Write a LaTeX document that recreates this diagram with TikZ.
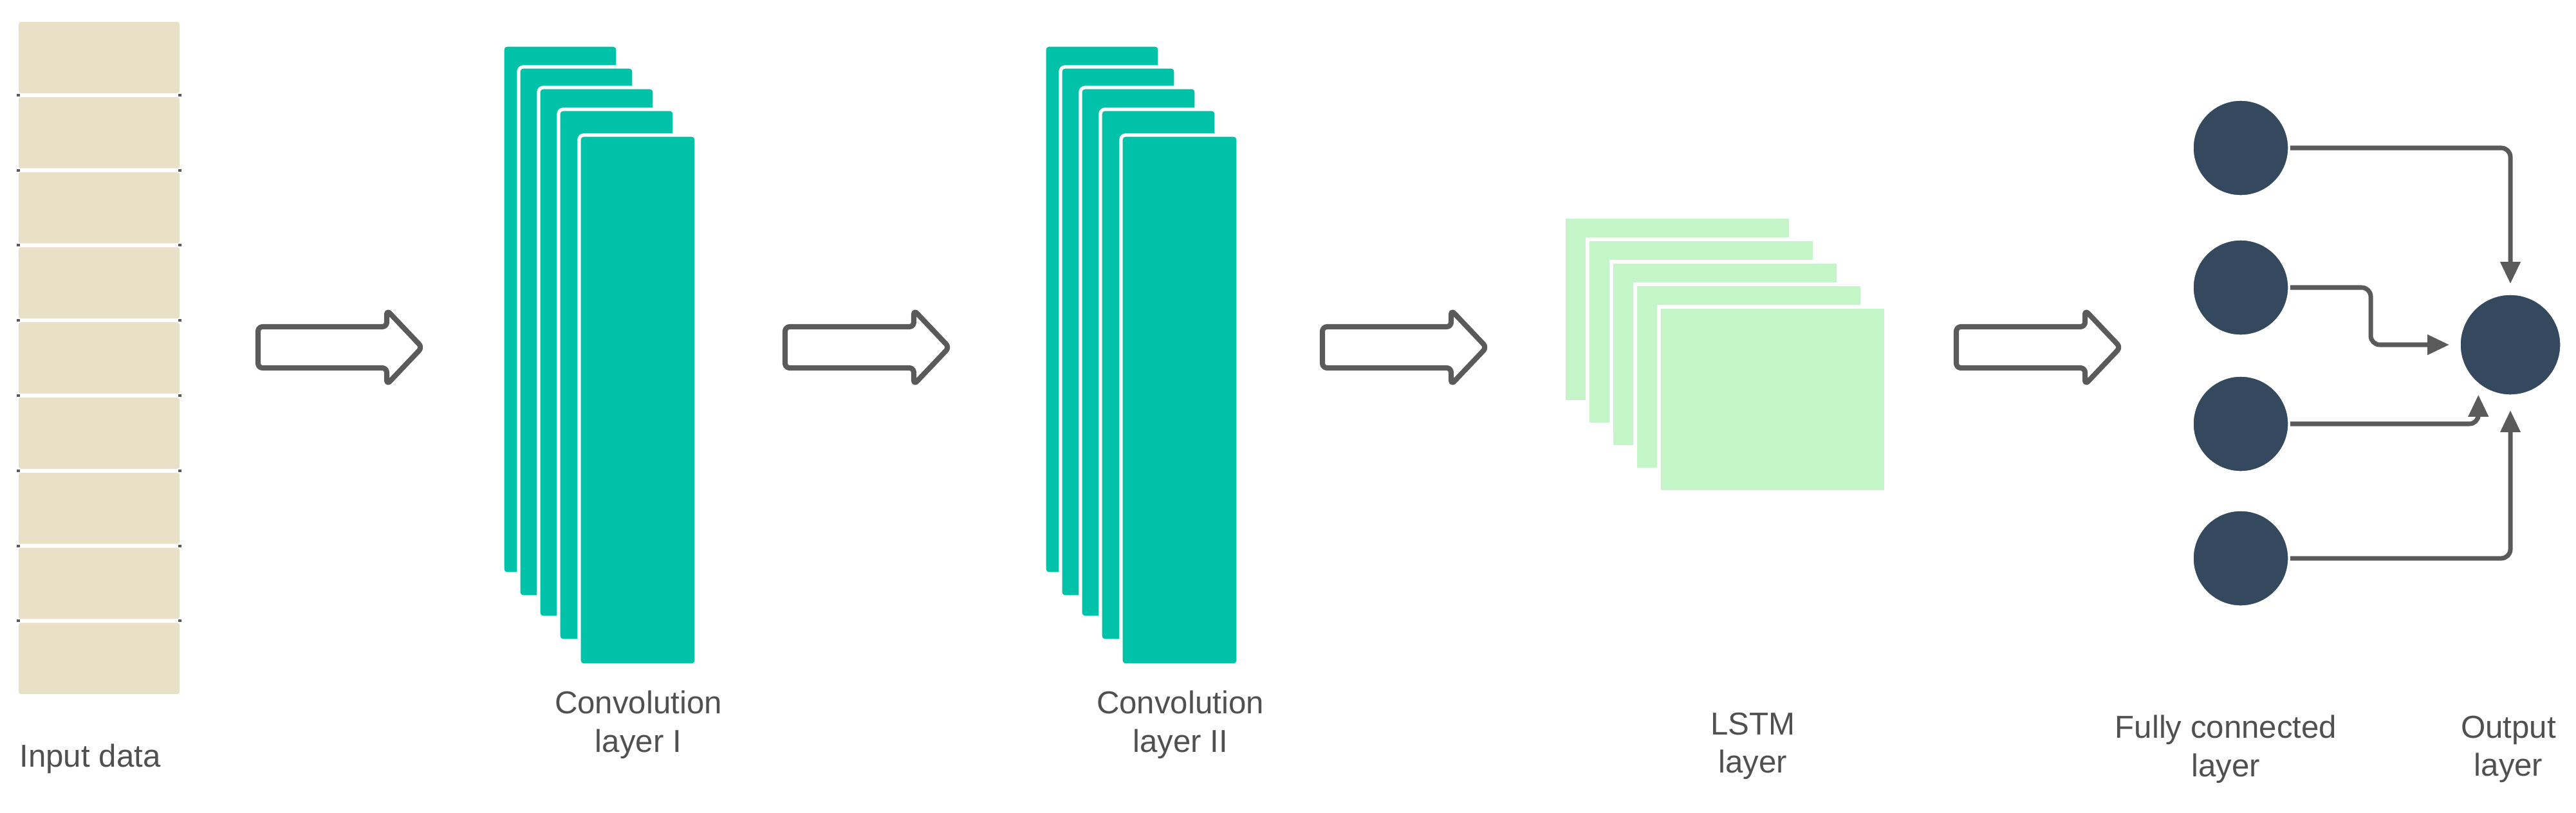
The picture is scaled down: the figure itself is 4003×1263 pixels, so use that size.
\documentclass[tikz,border=0pt]{standalone}
\usepackage{fontspec}
\setmainfont{Liberation Sans}
\usetikzlibrary{arrows.meta}
\definecolor{sand}{HTML}{E8E1C8}
\definecolor{teal}{HTML}{00C2A8}
\definecolor{mint}{HTML}{C3F5C9}
\definecolor{navy}{HTML}{34495E}
\definecolor{gr}{HTML}{5A5A5A}
\definecolor{txt}{HTML}{505050}
\begin{document}
\begin{tikzpicture}[x=0.01cm,y=-0.01cm,
  lbl/.style={text=txt,font=\fontsize{14}{17}\selectfont,align=center},
  conv/.style={fill=teal,draw=white,line width=1.5pt,rounded corners=2pt},
  lstm/.style={fill=mint,draw=white,line width=1.5pt},
  neuron/.style={circle,fill=navy,draw=white,line width=1pt,minimum size=1.5cm,inner sep=0pt},
  blk/.style={draw=gr,line width=2.3pt,rounded corners=2pt,line join=round},
  con/.style={draw=gr,line width=2pt,rounded corners=4pt,-{Triangle[length=0.34cm,width=0.3cm]}}]
\useasboundingbox (0,0) rectangle (4003,1263);
% input column
\foreach \i in {0,...,8}{
  \fill[sand,rounded corners=1pt] (29,{31+\i*116.8+3}) rectangle (279,{31+(\i+1)*116.8-3});
}
\foreach \i in {1,...,8}{
  \fill[gr] (26,{31+\i*116.8-2}) rectangle (31,{31+\i*116.8+2});
  \fill[gr] (277,{31+\i*116.8-2}) rectangle (282,{31+\i*116.8+2});
}
\node[lbl] (in) at (140,1180) {Input data};
% block arrows
\foreach \x in {401,1220,2055,3040}{
  \draw[blk] (\x,508) -- (\x+200,508) -- (\x+200,482) -- (\x+255,540) -- (\x+200,598) -- (\x+200,572) -- (\x,572) -- cycle;
}
% conv layers
\foreach \o/\n in {0/I,842/II}{
  \draw[conv] (781+\o,70) rectangle (960+\o,892);
  \draw[conv] (806+\o,104) rectangle (985+\o,928);
  \draw[conv] (837+\o,136) rectangle (1017+\o,960);
  \draw[conv] (868+\o,170) rectangle (1048+\o,996);
  \draw[conv] (900+\o,210) rectangle (1082+\o,1034);
  \node[lbl] at (992+\o,1127) {Convolution\\layer \n};
}
% LSTM
\foreach \i in {0,...,4}{
  \draw[lstm] ({2430+\i*37},{337+\i*35}) rectangle ({2783+\i*37},{625+\i*35});
}
\node[lbl] at (2724,1160) {LSTM\\layer};
% neurons
\node[neuron] (f1) at (3482,230) {};
\node[neuron] (f2) at (3482,447) {};
\node[neuron] (f3) at (3482,659) {};
\node[neuron] (f4) at (3482,868) {};
\node[neuron,minimum size=1.58cm] (o) at (3901,536) {};
\node[lbl] at (3459,1165) {Fully connected\\layer};
\node[lbl] at (3898,1165) {Output\\layer};
\draw[con,shorten >=4pt] (f1.east) -| (o.north);
\draw[con,shorten >=4pt] (f2.east) -- (3684,447) |- (o.west);
\draw[con,shorten >=4pt] (f3.east) -| (o.232);
\draw[con,shorten >=6pt] (f4.east) -| (o.south);
\end{tikzpicture}
\end{document}
